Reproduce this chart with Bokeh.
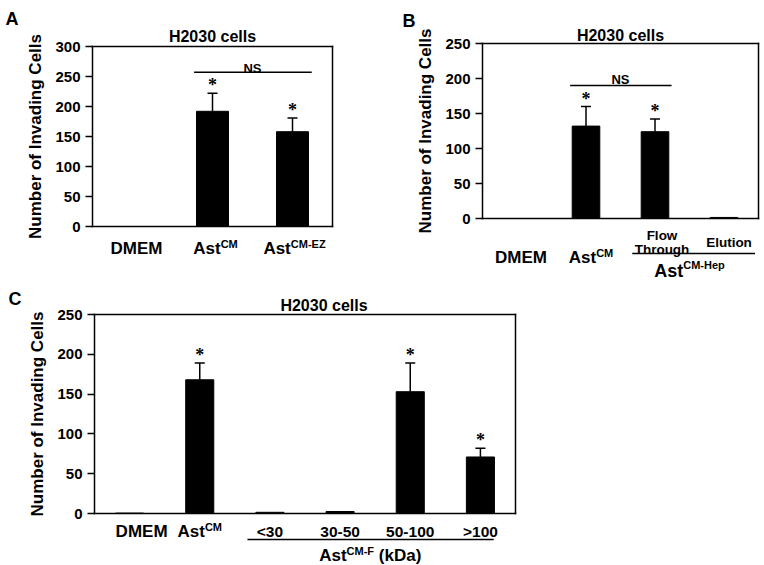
from bokeh.plotting import figure
from bokeh.models import Range1d, FixedTicker, Label, Whisker, TeeHead, ColumnDataSource, LinearAxis
from bokeh.layouts import column, row
from bokeh.embed import file_html
from bokeh.resources import INLINE

FONT = "Liberation Sans"

# ---------------- data ----------------
title_text = "H2030 cells"
y_label = "Number of Invading Cells"

a_values = [0, 192, 158]
a_errors = [0, 30, 23]
a_stars = [False, True, True]
a_ns_pair = [1, 2]
a_ns_y = 257
a_yticks = [0, 50, 100, 150, 200, 250, 300]

b_values = [0, 132, 124, 1.5]
b_errors = [0, 28, 18, 0]
b_stars = [False, True, True, False]
b_ns_pair = [1, 2]
b_ns_y = 190
b_yticks = [0, 50, 100, 150, 200, 250]

c_values = [0.5, 168, 1.5, 2.5, 153, 71]
c_errors = [0, 21, 0, 0, 36, 11]
c_stars = [False, True, False, False, True, True]
c_yticks = [0, 50, 100, 150, 200, 250]
c_fraction_labels = ["<30", "30-50", "50-100", ">100"]

# Arial/Liberation Sans Bold advance widths (em)
W = {'A': .722, 's': .556, 't': .333, 'C': .722, 'M': .833, '-': .333, 'E': .667,
     'Z': .611, 'H': .722, 'e': .556, 'p': .611, 'F': .611, ' ': .278, '(': .333,
     'k': .556, 'D': .722, 'a': .556, ')': .333}

GEOM = {}


def tw(text, size):
    return sum(W.get(ch, .556) for ch in text) * size


def style_axis(ax, width=1.5):
    ax.axis_line_width = width
    ax.axis_line_color = "black"
    ax.axis_line_cap = "square"
    ax.minor_tick_line_color = None


def make_panel(values, errors, stars, yticks, cw_px, ch_px, L, R, T, B):
    """cw_px/ch_px: canvas size; L,R,T,B: plot box edges in canvas pixels"""
    n = len(values)
    ymax = yticks[-1]
    cw = (R - L) / n
    pu = (B - T) / ymax
    x0 = -0.5 - L / cw
    x1 = -0.5 + (cw_px - L) / cw
    y0 = -(ch_px - B) / pu
    y1 = B / pu
    p = figure(frame_width=cw_px, frame_height=ch_px, min_border=0,
               x_range=Range1d(x0, x1), y_range=Range1d(y0, y1),
               output_backend="svg", toolbar_location=None)
    p.grid.visible = False
    p.outline_line_color = None
    p.background_fill_color = "white"
    p.border_fill_color = "white"

    ya = p.yaxis[0]
    ya.fixed_location = -0.5
    ya.bounds = (0, ymax)
    ya.ticker = FixedTicker(ticks=yticks)
    style_axis(ya)
    ya.major_tick_in = 0
    ya.major_tick_out = 7
    ya.major_tick_line_width = 1.5
    ya.major_label_text_font = FONT
    ya.major_label_text_font_style = "bold"
    ya.major_label_text_font_size = "15px"
    ya.major_label_text_color = "black"
    ya.major_label_standoff = 5
    ya.axis_label = y_label
    ya.axis_label_text_font = FONT
    ya.axis_label_text_font_style = "bold"
    ya.axis_label_text_font_size = "17px"
    ya.axis_label_text_color = "black"
    ya.axis_label_standoff = 7

    xa = p.xaxis[0]
    xa.fixed_location = 0
    xa.bounds = (-0.5, n - 0.5)
    xa.ticker = FixedTicker(ticks=[])
    xa.major_label_text_font_size = "0px"
    xa.major_tick_line_color = None
    style_axis(xa)

    top_ax = LinearAxis(fixed_location=ymax, bounds=(-0.5, n - 0.5), ticker=FixedTicker(ticks=[]),
                        major_label_text_font_size="0px", major_tick_line_color=None)
    style_axis(top_ax)
    p.add_layout(top_ax, "above")
    right_ax = LinearAxis(fixed_location=n - 0.5, bounds=(0, ymax), ticker=FixedTicker(ticks=[]),
                          major_label_text_font_size="0px", major_tick_line_color=None)
    style_axis(right_ax)
    p.add_layout(right_ax, "right")

    xs = list(range(n))
    src = ColumnDataSource(dict(x=xs, top=values))
    p.vbar(x="x", top="top", width=0.4, bottom=0, source=src, fill_color="black", line_color="black")

    ex = [x for x, e in zip(xs, errors) if e > 0]
    esrc = ColumnDataSource(dict(x=ex, lo=[values[i] for i in ex], hi=[values[i] + errors[i] for i in ex]))
    p.add_layout(Whisker(base="x", lower="lo", upper="hi", source=esrc, dimension="height",
                         line_width=1.5, line_color="black",
                         upper_head=TeeHead(size=10, line_width=1.5, line_color="black"),
                         lower_head=None))

    sx = [x for x, s in zip(xs, stars) if s]
    ssrc = ColumnDataSource(dict(x=sx, y=[values[i] + errors[i] for i in sx], t=["*"] * len(sx)))
    p.text(x="x", y="y", text="t", source=ssrc, text_font=FONT, text_font_style="bold",
           text_font_size="18px", text_align="center", text_baseline="alphabetic",
           text_color="black", y_offset=-8)
    GEOM[id(p)] = (cw, pu, L, B, T, n)
    return p


def put(p, text, x, y, size, align="center", dx=0):
    p.add_layout(Label(x=x, y=y, text=text, text_font=FONT, text_font_style="bold",
                       text_font_size=f"{size}px", text_align=align, text_baseline="alphabetic",
                       text_color="black", x_offset=dx))


def lab(p, text, x, below, size, align="center", dx=0):
    """x: data x; below: baseline distance in px below the plot box bottom"""
    cw, pu, L, B, T, n = GEOM[id(p)]
    put(p, text, x, -below / pu, size, align, dx)


def rich(p, parts, x, below, dx=0):
    total = sum(tw(t, s) for t, s, r in parts)
    cur = dx - total / 2
    for t, s, r in parts:
        stripped = t.lstrip(" ")
        cur += tw(t[:len(t) - len(stripped)], s)
        lab(p, stripped, x, below - r, s, align="left", dx=cur)
        cur += tw(stripped, s)


def at_canvas(p, text, cx, cy, size, align="left"):
    cw, pu, L, B, T, n = GEOM[id(p)]
    put(p, text, -0.5 + (cx - L) / cw, (B - cy) / pu, size, align)


def add_title(p, above, dx=0):
    cw, pu, L, B, T, n = GEOM[id(p)]
    put(p, title_text, (n - 1) / 2, (B - T + above) / pu, 16, dx=dx)


def ns_bracket(p, pair, ny, gap):
    p.segment(x0=[pair[0] - 0.23], x1=[pair[1] + 0.24], y0=[ny], y1=[ny], line_color="black", line_width=1.5)
    p.add_layout(Label(x=(pair[0] + pair[1]) / 2, y=ny, text="NS", text_font=FONT, text_font_style="bold",
                       text_font_size="13px", text_align="center", text_baseline="alphabetic",
                       text_color="black", y_offset=gap))


def hline(p, x0, x1, below):
    cw, pu, L, B, T, n = GEOM[id(p)]
    yd = -below / pu
    p.segment(x0=[x0], x1=[x1], y0=[yd], y1=[yd], line_color="black", line_width=1.5)


# ---------------- Panel A ----------------
pA = make_panel(a_values, a_errors, a_stars, a_yticks, 382, 282, L=92, R=332, T=46, B=226)
add_title(pA, 10)
ns_bracket(pA, a_ns_pair, a_ns_y, 4)
lab(pA, "DMEM", 0, 22, 17, dx=4)
rich(pA, [("Ast", 17, 0), ("CM", 11, 5)], 1, 22, dx=3)
rich(pA, [("Ast", 17, 0), ("CM-EZ", 11, 5)], 2, 22, dx=2)
at_canvas(pA, "A", 5, 18, 18)

# ---------------- Panel B ----------------
pB = make_panel(b_values, b_errors, b_stars, b_yticks, 380, 282, L=100, R=376, T=43, B=218)
add_title(pB, 8)
ns_bracket(pB, b_ns_pair, b_ns_y, 6)
lab(pB, "DMEM", 0, 39, 17, dx=4)
rich(pB, [("Ast", 17, 0), ("CM", 11, 5)], 1, 39, dx=5)
lab(pB, "Flow", 2, 17, 13.5, dx=7)
lab(pB, "Through", 2, 31, 13.5, dx=7)
lab(pB, "Elution", 3, 24, 13.5, dx=5)
hline(pB, 1.67, 3.45, 35)
rich(pB, [("Ast", 18, 0), ("CM-Hep", 11, 6)], 2.5, 52)
at_canvas(pB, "B", 20, 20, 18)

# ---------------- Panel C ----------------
pC = make_panel(c_values, c_errors, c_stars, c_yticks, 520, 282, L=94, R=515, T=32, B=231)
add_title(pC, 9, dx=19)
lab(pC, "DMEM", 0, 18, 17, dx=12)
rich(pC, [("Ast", 17, 0), ("CM", 11, 5)], 1, 18)
for i, t in enumerate(c_fraction_labels):
    lab(pC, t, 2 + i, 18, 15.5)
hline(pC, 1.68, 5.19, 26)
rich(pC, [("Ast", 17, 0), ("CM-F", 11, 5), (" (kDa)", 17, 0)], 3.43, 42)
at_canvas(pC, "C", 8, 16, 18)

layout = column(row(pA, pB), pC)
open("out.html", "w").write(file_html(layout, INLINE))
